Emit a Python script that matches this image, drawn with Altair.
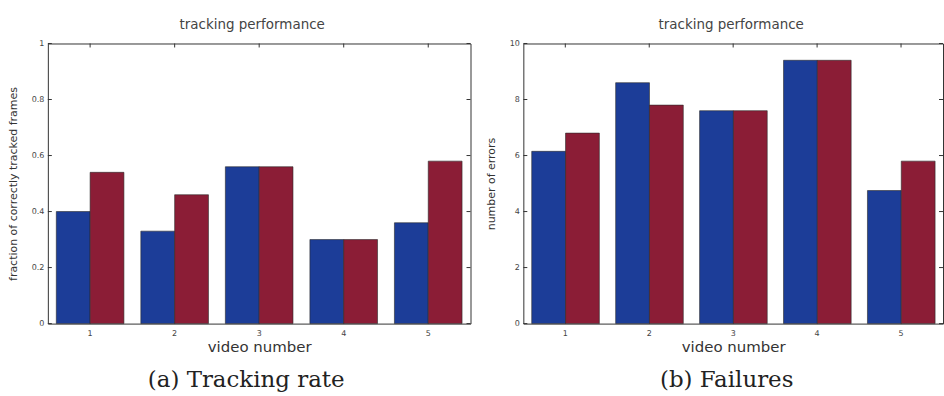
import altair as alt
import pandas as pd

# ---- data ----
videos = [1, 2, 3, 4, 5]
methods = ["method A", "method B"]
rate_a = [0.40, 0.33, 0.56, 0.30, 0.36]
rate_b = [0.54, 0.46, 0.56, 0.30, 0.58]
fail_a = [6.15, 8.6, 7.6, 9.4, 4.75]
fail_b = [6.8, 7.8, 7.6, 9.4, 5.8]
rate_ticks = [0, 0.2, 0.4, 0.6, 0.8, 1]
fail_ticks = [0, 2, 4, 6, 8, 10]
colors = ["#1c3d98", "#8b1d36"]

H = 281
FONT = "DejaVu Sans"


def panel(va, vb, ymax, yticks, ytitle, caption, width, cap_x, title_dx, ytp):
    df = pd.DataFrame({
        "video": videos * 2,
        "method": [methods[0]] * len(videos) + [methods[1]] * len(videos),
        "value": va + vb,
    })
    xscale = alt.Scale(paddingInner=0.2, paddingOuter=0.1)
    yscale = alt.Scale(domain=[0, ymax], nice=False, zero=True)
    xaxis = alt.Axis(labelAngle=0, ticks=False, domain=False,
                     labelFontSize=8, labelColor="#444", labelPadding=6,
                     labelFont=FONT, titleFont=FONT, titleFontSize=15,
                     titleFontWeight="normal", titleColor="#333",
                     titlePadding=2)
    yaxis = alt.Axis(values=yticks, format=".1~f", ticks=False, domain=False,
                     grid=False, labelFontSize=8, labelColor="#444",
                     labelPadding=4, labelFont=FONT, titleFont=FONT,
                     titleFontSize=11, titleFontWeight="normal",
                     titleColor="#333", titlePadding=ytp)
    bars = alt.Chart(df).mark_bar(stroke="#2a2a2a", strokeWidth=0.6).encode(
        x=alt.X("video:O", scale=xscale, title="video number", axis=xaxis),
        xOffset=alt.XOffset("method:N", scale=alt.Scale(domain=methods, paddingInner=0, paddingOuter=0)),
        y=alt.Y("value:Q", scale=yscale, title=ytitle, axis=yaxis),
        color=alt.Color("method:N", scale=alt.Scale(domain=methods, range=colors), legend=None),
    )
    tdf = pd.DataFrame({"t": yticks})
    ytl = alt.Chart(tdf).mark_rule(color="#333", strokeWidth=1).encode(
        y=alt.Y("t:Q", scale=yscale, title=ytitle, axis=yaxis), x=alt.value(0), x2=alt.value(4))
    ytr = alt.Chart(tdf).mark_rule(color="#333", strokeWidth=1).encode(
        y=alt.Y("t:Q", scale=yscale, title=ytitle, axis=yaxis), x=alt.value(width - 4), x2=alt.value(width))
    vdf = pd.DataFrame({"video": videos})
    xtt = alt.Chart(vdf).mark_rule(color="#333", strokeWidth=1).encode(
        x=alt.X("video:O", scale=xscale, title="video number", axis=xaxis), y=alt.value(0), y2=alt.value(4))
    cdf = pd.DataFrame({"caption": [caption]})
    cap = alt.Chart(cdf).mark_text(font="DejaVu Serif", fontSize=23, color="#222",
                                   align="center", baseline="middle").encode(
        x=alt.value(cap_x), y=alt.value(H + 57), text="caption:N")
    return alt.layer(bars, ytl, ytr, xtt, cap).properties(
        width=width, height=H,
        title=alt.TitleParams("tracking performance", font=FONT, fontSize=13.5,
                              fontWeight="normal", color="#444", dx=title_dx, offset=8),
    )


left = panel(rate_a, rate_b, 1, rate_ticks,
             "fraction of correctly tracked frames", "(a) Tracking rate", 424, 199, -7, 13)
right = panel(fail_a, fail_b, 10, fail_ticks,
              "number of errors", "(b) Failures", 421, 204, -2, 13)

chart = alt.hconcat(left, right, spacing=13).properties(
    padding={"left": 6, "top": 17, "right": 0, "bottom": 0}
).configure_view(stroke="#333", strokeWidth=1)

chart.save("out.html", embed_options={"renderer": "svg", "actions": False})
